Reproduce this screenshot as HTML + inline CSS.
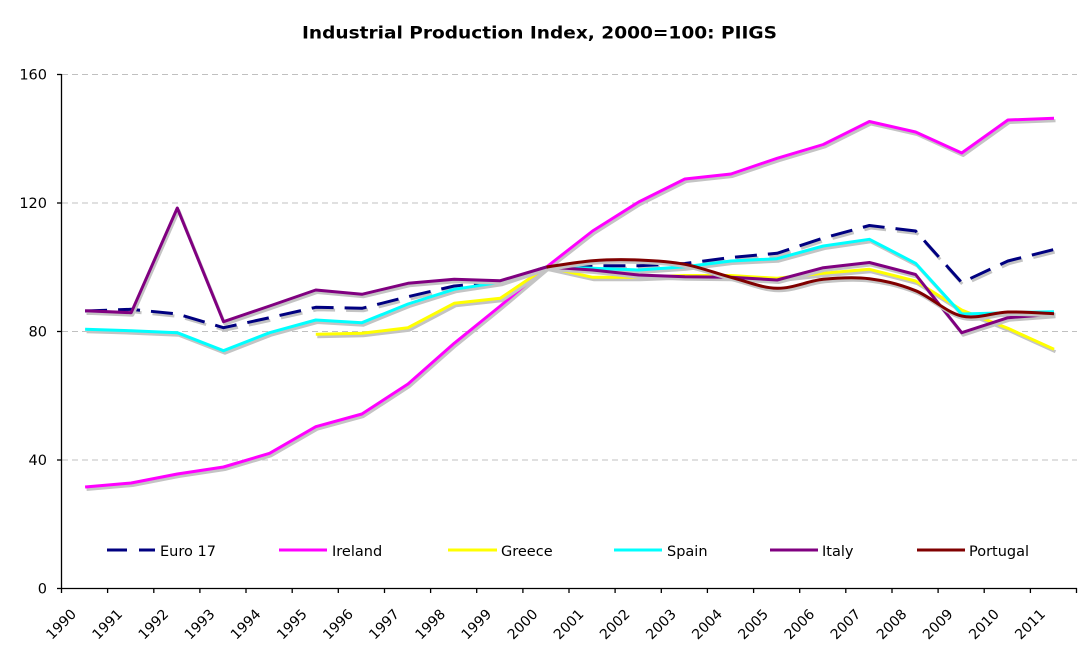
<!DOCTYPE html>
<html>
<head>
<meta charset="utf-8">
<style>
  html, body { margin: 0; padding: 0; background: #ffffff; }
  svg { display: block; }
  text { font-family: "DejaVu Sans", "Liberation Sans", sans-serif; fill: #000; }
</style>
</head>
<body>
<svg width="1082" height="662" viewBox="0 0 1082 662" xmlns="http://www.w3.org/2000/svg">
  <rect x="0" y="0" width="1082" height="662" fill="#ffffff"/>

  <!-- Title -->
  <text x="539.5" y="38.5" text-anchor="middle" font-size="16.5" font-weight="bold" textLength="475" lengthAdjust="spacingAndGlyphs">Industrial Production Index, 2000=100: PIIGS</text>

  <!-- Gridlines -->
  <g stroke="#c0c0c0" stroke-width="1" stroke-dasharray="6 4" fill="none">
    <line x1="62" y1="74.5" x2="1077" y2="74.5"/>
    <line x1="62" y1="203" x2="1077" y2="203"/>
    <line x1="62" y1="331.5" x2="1077" y2="331.5"/>
    <line x1="62" y1="460" x2="1077" y2="460"/>
  </g>

  <!-- Axes -->
  <g stroke="#000" stroke-width="1.3" fill="none">
    <line x1="61.5" y1="74" x2="61.5" y2="588.5"/>
    <line x1="61.5" y1="588.5" x2="1077" y2="588.5"/>
    <line x1="57" y1="74.5" x2="61.5" y2="74.5"/>
    <line x1="57" y1="203" x2="61.5" y2="203"/>
    <line x1="57" y1="331.5" x2="61.5" y2="331.5"/>
    <line x1="57" y1="460" x2="61.5" y2="460"/>
    <line x1="57" y1="588.5" x2="61.5" y2="588.5"/>
    <line x1="61.5" y1="588" x2="61.5" y2="593"/>
    <line x1="107.6" y1="588" x2="107.6" y2="593"/>
    <line x1="153.8" y1="588" x2="153.8" y2="593"/>
    <line x1="199.9" y1="588" x2="199.9" y2="593"/>
    <line x1="246.0" y1="588" x2="246.0" y2="593"/>
    <line x1="292.2" y1="588" x2="292.2" y2="593"/>
    <line x1="338.3" y1="588" x2="338.3" y2="593"/>
    <line x1="384.5" y1="588" x2="384.5" y2="593"/>
    <line x1="430.6" y1="588" x2="430.6" y2="593"/>
    <line x1="476.7" y1="588" x2="476.7" y2="593"/>
    <line x1="522.9" y1="588" x2="522.9" y2="593"/>
    <line x1="569.0" y1="588" x2="569.0" y2="593"/>
    <line x1="615.1" y1="588" x2="615.1" y2="593"/>
    <line x1="661.3" y1="588" x2="661.3" y2="593"/>
    <line x1="707.4" y1="588" x2="707.4" y2="593"/>
    <line x1="753.6" y1="588" x2="753.6" y2="593"/>
    <line x1="799.7" y1="588" x2="799.7" y2="593"/>
    <line x1="845.8" y1="588" x2="845.8" y2="593"/>
    <line x1="892.0" y1="588" x2="892.0" y2="593"/>
    <line x1="938.1" y1="588" x2="938.1" y2="593"/>
    <line x1="984.2" y1="588" x2="984.2" y2="593"/>
    <line x1="1030.4" y1="588" x2="1030.4" y2="593"/>
    <line x1="1076.5" y1="588" x2="1076.5" y2="593"/>
  </g>

  <!-- Y labels -->
  <g font-size="14.5" text-anchor="end">
    <text x="47" y="79.5">160</text>
    <text x="47" y="208">120</text>
    <text x="47" y="336.5">80</text>
    <text x="47" y="465">40</text>
    <text x="47" y="593.5">0</text>
  </g>

  <!-- X labels -->
  <g font-size="14" text-anchor="end">
    <text transform="translate(77.1,615) rotate(-45)">1990</text>
    <text transform="translate(123.2,615) rotate(-45)">1991</text>
    <text transform="translate(169.3,615) rotate(-45)">1992</text>
    <text transform="translate(215.5,615) rotate(-45)">1993</text>
    <text transform="translate(261.6,615) rotate(-45)">1994</text>
    <text transform="translate(307.8,615) rotate(-45)">1995</text>
    <text transform="translate(353.9,615) rotate(-45)">1996</text>
    <text transform="translate(400.0,615) rotate(-45)">1997</text>
    <text transform="translate(446.2,615) rotate(-45)">1998</text>
    <text transform="translate(492.3,615) rotate(-45)">1999</text>
    <text transform="translate(538.5,615) rotate(-45)">2000</text>
    <text transform="translate(584.6,615) rotate(-45)">2001</text>
    <text transform="translate(630.7,615) rotate(-45)">2002</text>
    <text transform="translate(676.9,615) rotate(-45)">2003</text>
    <text transform="translate(723.0,615) rotate(-45)">2004</text>
    <text transform="translate(769.1,615) rotate(-45)">2005</text>
    <text transform="translate(815.3,615) rotate(-45)">2006</text>
    <text transform="translate(861.4,615) rotate(-45)">2007</text>
    <text transform="translate(907.6,615) rotate(-45)">2008</text>
    <text transform="translate(953.7,615) rotate(-45)">2009</text>
    <text transform="translate(999.9,615) rotate(-45)">2010</text>
    <text transform="translate(1046.0,615) rotate(-45)">2011</text>
  </g>

  <!-- Series -->
  <g fill="none" stroke-width="3" stroke-linejoin="round">
    <polyline transform="translate(1.5,2.5)" stroke="#c4c4c4" stroke-dasharray="22 11" points="85.1,311 131.2,309.3 177.3,314 223.5,327.7 269.6,317.7 315.8,307.3 361.9,308.3 408.0,296.7 454.2,286 500.3,281.7 546.5,267 592.6,265.7 638.7,265.7 684.9,263.5 731.0,257.5 777.1,253.3 823.3,238 869.4,225.5 915.6,231 961.7,282.5 1007.9,261 1054.0,249.5"/>
    <polyline stroke="#000080" stroke-dasharray="22 11" points="85.1,311 131.2,309.3 177.3,314 223.5,327.7 269.6,317.7 315.8,307.3 361.9,308.3 408.0,296.7 454.2,286 500.3,281.7 546.5,267 592.6,265.7 638.7,265.7 684.9,263.5 731.0,257.5 777.1,253.3 823.3,238 869.4,225.5 915.6,231 961.7,282.5 1007.9,261 1054.0,249.5"/>

    <polyline transform="translate(1.5,2.5)" stroke="#c4c4c4" points="85.1,487 131.2,483 177.3,474 223.5,467 269.6,453.3 315.8,426.7 361.9,414 408.0,384 454.2,343.3 500.3,306 546.5,267 592.6,231 638.7,202 684.9,179 731.0,174 777.1,158.3 823.3,144.5 869.4,121.5 915.6,132 961.7,153 1007.9,120 1054.0,118.3"/>
    <polyline stroke="#ff00ff" points="85.1,487 131.2,483 177.3,474 223.5,467 269.6,453.3 315.8,426.7 361.9,414 408.0,384 454.2,343.3 500.3,306 546.5,267 592.6,231 638.7,202 684.9,179 731.0,174 777.1,158.3 823.3,144.5 869.4,121.5 915.6,132 961.7,153 1007.9,120 1054.0,118.3"/>

    <polyline transform="translate(1.5,2.5)" stroke="#c4c4c4" points="315.8,334.3 361.9,333.3 408.0,327.7 454.2,303.3 500.3,298.3 546.5,267 592.6,277.3 638.7,277.3 684.9,275.5 731.0,275.5 777.1,278.3 823.3,273.3 869.4,269.3 915.6,281 961.7,310 1007.9,328.3 1054.0,349.3"/>
    <polyline stroke="#ffff00" points="315.8,334.3 361.9,333.3 408.0,327.7 454.2,303.3 500.3,298.3 546.5,267 592.6,277.3 638.7,277.3 684.9,275.5 731.0,275.5 777.1,278.3 823.3,273.3 869.4,269.3 915.6,281 961.7,310 1007.9,328.3 1054.0,349.3"/>

    <polyline transform="translate(1.5,2.5)" stroke="#c4c4c4" points="85.1,329.3 131.2,330.7 177.3,332.7 223.5,350.7 269.6,332.7 315.8,320 361.9,322.7 408.0,304 454.2,289.3 500.3,282.3 546.5,267 592.6,268.3 638.7,270 684.9,266.7 731.0,261 777.1,258.7 823.3,246 869.4,239.3 915.6,263.3 961.7,314 1007.9,312.7 1054.0,311.7"/>
    <polyline stroke="#00ffff" points="85.1,329.3 131.2,330.7 177.3,332.7 223.5,350.7 269.6,332.7 315.8,320 361.9,322.7 408.0,304 454.2,289.3 500.3,282.3 546.5,267 592.6,268.3 638.7,270 684.9,266.7 731.0,261 777.1,258.7 823.3,246 869.4,239.3 915.6,263.3 961.7,314 1007.9,312.7 1054.0,311.7"/>

    <polyline transform="translate(1.5,2.5)" stroke="#c4c4c4" points="85.1,310.7 131.2,312.7 177.3,208 223.5,321.7 269.6,306 315.8,290 361.9,294.3 408.0,283.3 454.2,279.3 500.3,280.7 546.5,267 592.6,270 638.7,275 684.9,276.7 731.0,277.3 777.1,280 823.3,267.7 869.4,262.5 915.6,274.5 961.7,332.7 1007.9,317.7 1054.0,314.3"/>
    <polyline stroke="#800080" points="85.1,310.7 131.2,312.7 177.3,208 223.5,321.7 269.6,306 315.8,290 361.9,294.3 408.0,283.3 454.2,279.3 500.3,280.7 546.5,267 592.6,270 638.7,275 684.9,276.7 731.0,277.3 777.1,280 823.3,267.7 869.4,262.5 915.6,274.5 961.7,332.7 1007.9,317.7 1054.0,314.3"/>

    <path transform="translate(1.5,2.5)" stroke="#c4c4c4" d="M546.5,267 C554.2,266.0 577.2,261.9 592.6,260.7 C608.0,259.5 623.3,259.4 638.7,260 C654.1,260.6 669.5,261.4 684.9,264.3 C700.3,267.2 715.6,273.3 731.0,277.3 C746.4,281.3 761.7,288.0 777.1,288.3 C792.5,288.6 807.9,280.9 823.3,279.3 C838.7,277.7 854.0,276.8 869.4,278.7 C884.8,280.6 900.2,284.5 915.6,290.7 C931.0,296.9 946.3,312.5 961.7,316 C977.1,319.6 992.5,312.4 1007.9,312 C1023.3,311.6 1046.3,313.4 1054.0,313.7"/>
    <path stroke="#800000" d="M546.5,267 C554.2,266.0 577.2,261.9 592.6,260.7 C608.0,259.5 623.3,259.4 638.7,260 C654.1,260.6 669.5,261.4 684.9,264.3 C700.3,267.2 715.6,273.3 731.0,277.3 C746.4,281.3 761.7,288.0 777.1,288.3 C792.5,288.6 807.9,280.9 823.3,279.3 C838.7,277.7 854.0,276.8 869.4,278.7 C884.8,280.6 900.2,284.5 915.6,290.7 C931.0,296.9 946.3,312.5 961.7,316 C977.1,319.6 992.5,312.4 1007.9,312 C1023.3,311.6 1046.3,313.4 1054.0,313.7"/>
  </g>

  <!-- Legend -->
  <g stroke-width="3" fill="none">
    <line x1="107" y1="550" x2="127" y2="550" stroke="#000080"/>
    <line x1="139" y1="550" x2="155" y2="550" stroke="#000080"/>
    <line x1="279" y1="550" x2="327" y2="550" stroke="#ff00ff"/>
    <line x1="448" y1="550" x2="497" y2="550" stroke="#ffff00"/>
    <line x1="614" y1="550" x2="662" y2="550" stroke="#00ffff"/>
    <line x1="770" y1="550" x2="818" y2="550" stroke="#800080"/>
    <line x1="917" y1="550" x2="965" y2="550" stroke="#800000"/>
  </g>
  <g font-size="14.5">
    <text x="160" y="556">Euro 17</text>
    <text x="332" y="556">Ireland</text>
    <text x="501" y="556">Greece</text>
    <text x="667" y="556">Spain</text>
    <text x="822" y="556">Italy</text>
    <text x="969" y="556">Portugal</text>
  </g>
</svg>
</body>
</html>
